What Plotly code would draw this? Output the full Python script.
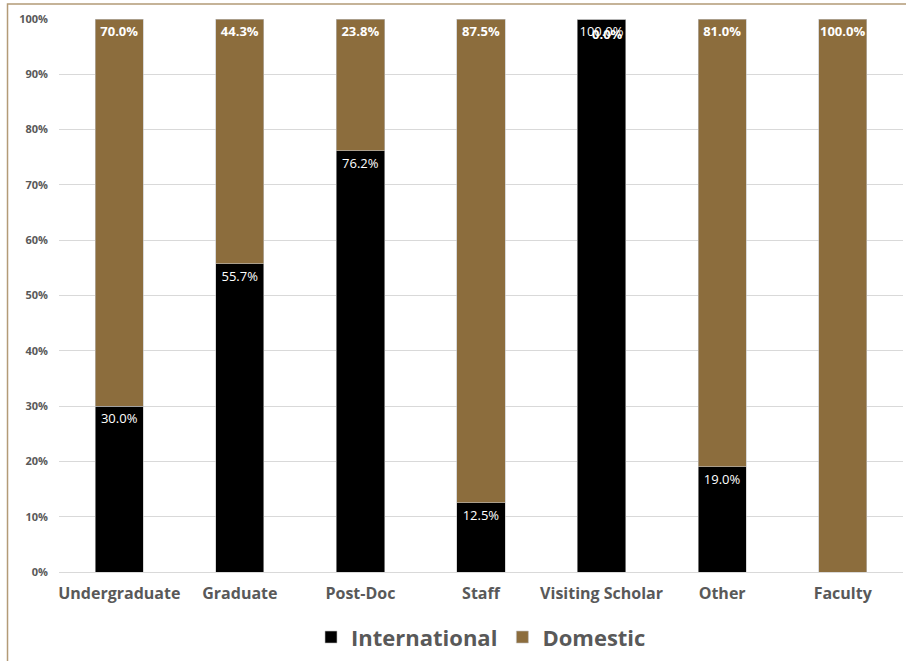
import plotly.graph_objects as go

# Share of each group by status
categories = ["Undergraduate", "Graduate", "Post-Doc", "Staff",
              "Visiting Scholar", "Other", "Faculty"]
international = [30.0, 55.7, 76.2, 12.5, 100.0, 19.0, 0.0]
domestic = [70.0, 44.3, 23.8, 87.5, 0.0, 81.0, 100.0]
y_ticks = [0, 10, 20, 30, 40, 50, 60, 70, 80, 90, 100]
y_tick_labels = [f"{v}%" for v in y_ticks]

BLACK = "#000000"
BROWN = "#8c6d3d"
GREY_TEXT = "#595959"
FONT = "Open Sans"

intl_text = [f"{v:.1f}%" if v > 0 else "" for v in international]
dom_text = [f"{v:.1f}%" for v in domestic]

fig = go.Figure()
fig.add_trace(go.Bar(
    x=categories, y=international, name="International",
    marker=dict(color=BLACK, line=dict(color="#bfbfbf", width=0.6)),
    text=intl_text, texttemplate="%{text}", textangle=0,
    textposition="inside", insidetextanchor="end", constraintext="none",
    textfont=dict(family=FONT, size=13, color="white"),
))
fig.add_trace(go.Bar(
    x=categories, y=domestic, name="Domestic",
    marker=dict(color=BROWN, line=dict(color="#bfbfbf", width=0.6)),
    text=dom_text, texttemplate="<b>%{text}</b>", textangle=0,
    textposition="inside", insidetextanchor="end", constraintext="none",
    textfont=dict(family=FONT, size=13, color="white"),
))

# zero-height domestic segments still carry their label at the stack top
for cat, i_val, d_val, txt in zip(categories, international, domestic, dom_text):
    if d_val == 0:
        fig.add_annotation(
            x=cat, y=i_val + d_val, yanchor="top", yshift=-4, showarrow=False,
            text=f"<b>{txt}</b>", xshift=6,
            font=dict(family=FONT, size=13, color="white"),
        )

fig.update_layout(
    barmode="stack",
    bargap=0.6,
    width=906, height=661,
    margin=dict(l=59, r=3, t=19, b=89),
    paper_bgcolor="white", plot_bgcolor="white",
    font=dict(family=FONT, color=GREY_TEXT),
    showlegend=True,
    legend=dict(
        orientation="h", x=0.5, xanchor="center", y=-0.08, yanchor="top",
        font=dict(family=FONT, size=22, color=GREY_TEXT, weight="bold"),
        itemwidth=30, traceorder="normal",
    ),
    xaxis=dict(
        showgrid=False, showline=False, zeroline=False,
        tickfont=dict(family=FONT, size=16, color=GREY_TEXT, weight="bold"),
        ticklabelstandoff=10,
    ),
    yaxis=dict(
        range=[0, 100], tickvals=y_ticks, ticktext=y_tick_labels,
        showgrid=True, gridcolor="#d9d9d9", gridwidth=1,
        zeroline=True, zerolinecolor="#d9d9d9", zerolinewidth=1,
        showline=False,
        tickfont=dict(family=FONT, size=11, color=GREY_TEXT, weight="bold"),
        ticklabelstandoff=10,
    ),
    shapes=[dict(
        type="rect", xref="paper", yref="paper",
        x0=-0.061, x1=1.2, y0=-0.3, y1=1.027,
        line=dict(color="#b39b77", width=1.5), fillcolor="rgba(0,0,0,0)",
        layer="below",
    )],
)

fig.write_html("out.html")
